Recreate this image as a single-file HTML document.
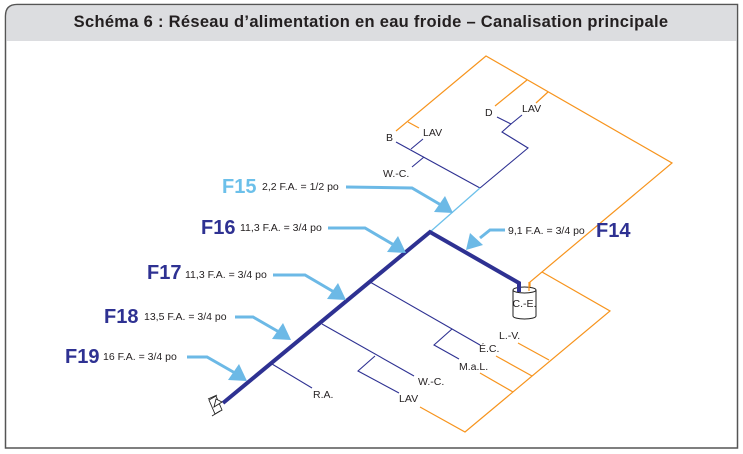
<!DOCTYPE html>
<html><head><meta charset="utf-8"><style>
html,body{margin:0;padding:0;background:#fff;width:743px;height:454px;overflow:hidden}
svg{display:block}
text{font-family:"Liberation Sans",sans-serif}
</style></head><body>
<svg width="743" height="454" viewBox="0 0 743 454">
<path d="M5.5 448 V16 Q5.5 4.5 17 4.5 H737.5 V448 Z" fill="#fff" stroke="#555" stroke-width="1.5"/>
<path d="M6.3 41 V16 Q6.3 5.3 17 5.3 H736.7 V41 Z" fill="#dcdde0"/>
<text x="371" y="27" text-anchor="middle" font-size="16.5" letter-spacing="0.3" font-weight="bold" fill="#231f20">Schéma 6 : Réseau d’alimentation en eau froide – Canalisation principale</text>

<g fill="none" stroke="#f7941d" stroke-width="1.2">
<polyline points="396,131 486,56 672,163 530,282 530,290"/>
<line x1="527" y1="80" x2="495" y2="106"/>
<line x1="548" y1="92" x2="536" y2="103"/>
<line x1="408" y1="122" x2="419" y2="128"/>
<polyline points="542,272 610,311 465,432 420,407"/>
<line x1="549" y1="360" x2="518" y2="343"/>
<line x1="532" y1="376" x2="496" y2="356"/>
<line x1="513" y1="392" x2="480" y2="373"/>
</g>

<g fill="none" stroke="#2e3192" stroke-width="1.1">
<line x1="396" y1="142" x2="480" y2="188"/>
<line x1="424" y1="157" x2="412" y2="167"/>
<line x1="411" y1="149" x2="423" y2="139"/>
<polyline points="480,188 528,148 502,132 511,124 522,115"/>
<line x1="511" y1="124" x2="497" y2="117"/>
<line x1="370" y1="282" x2="480" y2="345"/>
<polyline points="452,329 434,345 459,359"/>
<line x1="322" y1="324" x2="414" y2="376"/>
<polyline points="375,356 358,371 399,393"/>
<line x1="272" y1="364" x2="312" y2="388"/>
</g>
<line x1="430" y1="232" x2="480" y2="188" stroke="#6cc0ea" stroke-width="1.3"/>
<polyline points="223,403 430,232 519,283 519,292" fill="none" stroke="#2e3192" stroke-width="4"/>

<!-- valve -->
<g fill="#fff" stroke="#222" stroke-width="0.9">
<polygon points="209,400 216,396 222,410 215,414"/>
<polygon points="214,407 222,402 216,399"/>
<line x1="208" y1="399" x2="217" y2="395"/>
<line x1="212" y1="416" x2="220" y2="411"/>
</g>

<!-- tank -->
<g fill="#fff" stroke="#222" stroke-width="1">
<path d="M513 290 V316 A11.5 3 0 0 0 536 316 V290"/>
<ellipse cx="524.5" cy="290" rx="11.5" ry="3"/>
</g>
<polyline points="519,282 519,292" fill="none" stroke="#2e3192" stroke-width="4"/>
<line x1="529" y1="282" x2="529" y2="291" stroke="#f7941d" stroke-width="1.2"/>
<text x="524.5" y="307" text-anchor="middle" font-size="10.5" fill="#231f20">C.-E.</text>

<g font-size="10.5" fill="#231f20">
<text x="386" y="141">B</text>
<text x="423" y="136">LAV</text>
<text x="383" y="177">W.-C.</text>
<text x="485" y="116">D</text>
<text x="522" y="112">LAV</text>
<text x="313" y="398">R.A.</text>
<text x="399" y="402">LAV</text>
<text x="418" y="385">W.-C.</text>
<text x="459" y="370">M.a.L.</text>
<text x="479" y="352">É.C.</text>
<text x="499" y="339">L.-V.</text>
</g>

<g fill="none" stroke="#6cb9e6" stroke-width="3">
<polyline points="346,187 412,188 441,205"/>
<polyline points="328,228 365,228 394,245"/>
<polyline points="505,230 490,230 480,238"/>
<polyline points="273,275 305,275 334,292"/>
<polyline points="235,317 253,317 279,332"/>
<polyline points="187,357 207,357 235,373"/>
</g>
<g fill="#6cb9e6">
<polygon points="453,213 434,212 445,196"/>
<polygon points="406,253 387,252 398,236"/>
<polygon points="466,250 470,233 483,245"/>
<polygon points="346,300 327,299 338,283"/>
<polygon points="291,340 272,339 283,323"/>
<polygon points="247,381 228,380 239,364"/>
</g>

<g font-weight="bold" font-size="20" fill="#2e3192">
<text x="222" y="193" fill="#6cc0ea">F15</text>
<text x="201" y="234">F16</text>
<text x="596" y="237">F14</text>
<text x="147" y="279">F17</text>
<text x="104" y="323">F18</text>
<text x="65" y="363">F19</text>
</g>
<g font-size="10.5" fill="#231f20">
<text x="262" y="190">2,2 F.A. = 1/2 po</text>
<text x="240" y="231">11,3 F.A. = 3/4 po</text>
<text x="508" y="234">9,1 F.A. = 3/4 po</text>
<text x="185" y="278">11,3 F.A. = 3/4 po</text>
<text x="144" y="320">13,5 F.A. = 3/4 po</text>
<text x="103" y="360">16 F.A. = 3/4 po</text>
</g>
</svg>
</body></html>
